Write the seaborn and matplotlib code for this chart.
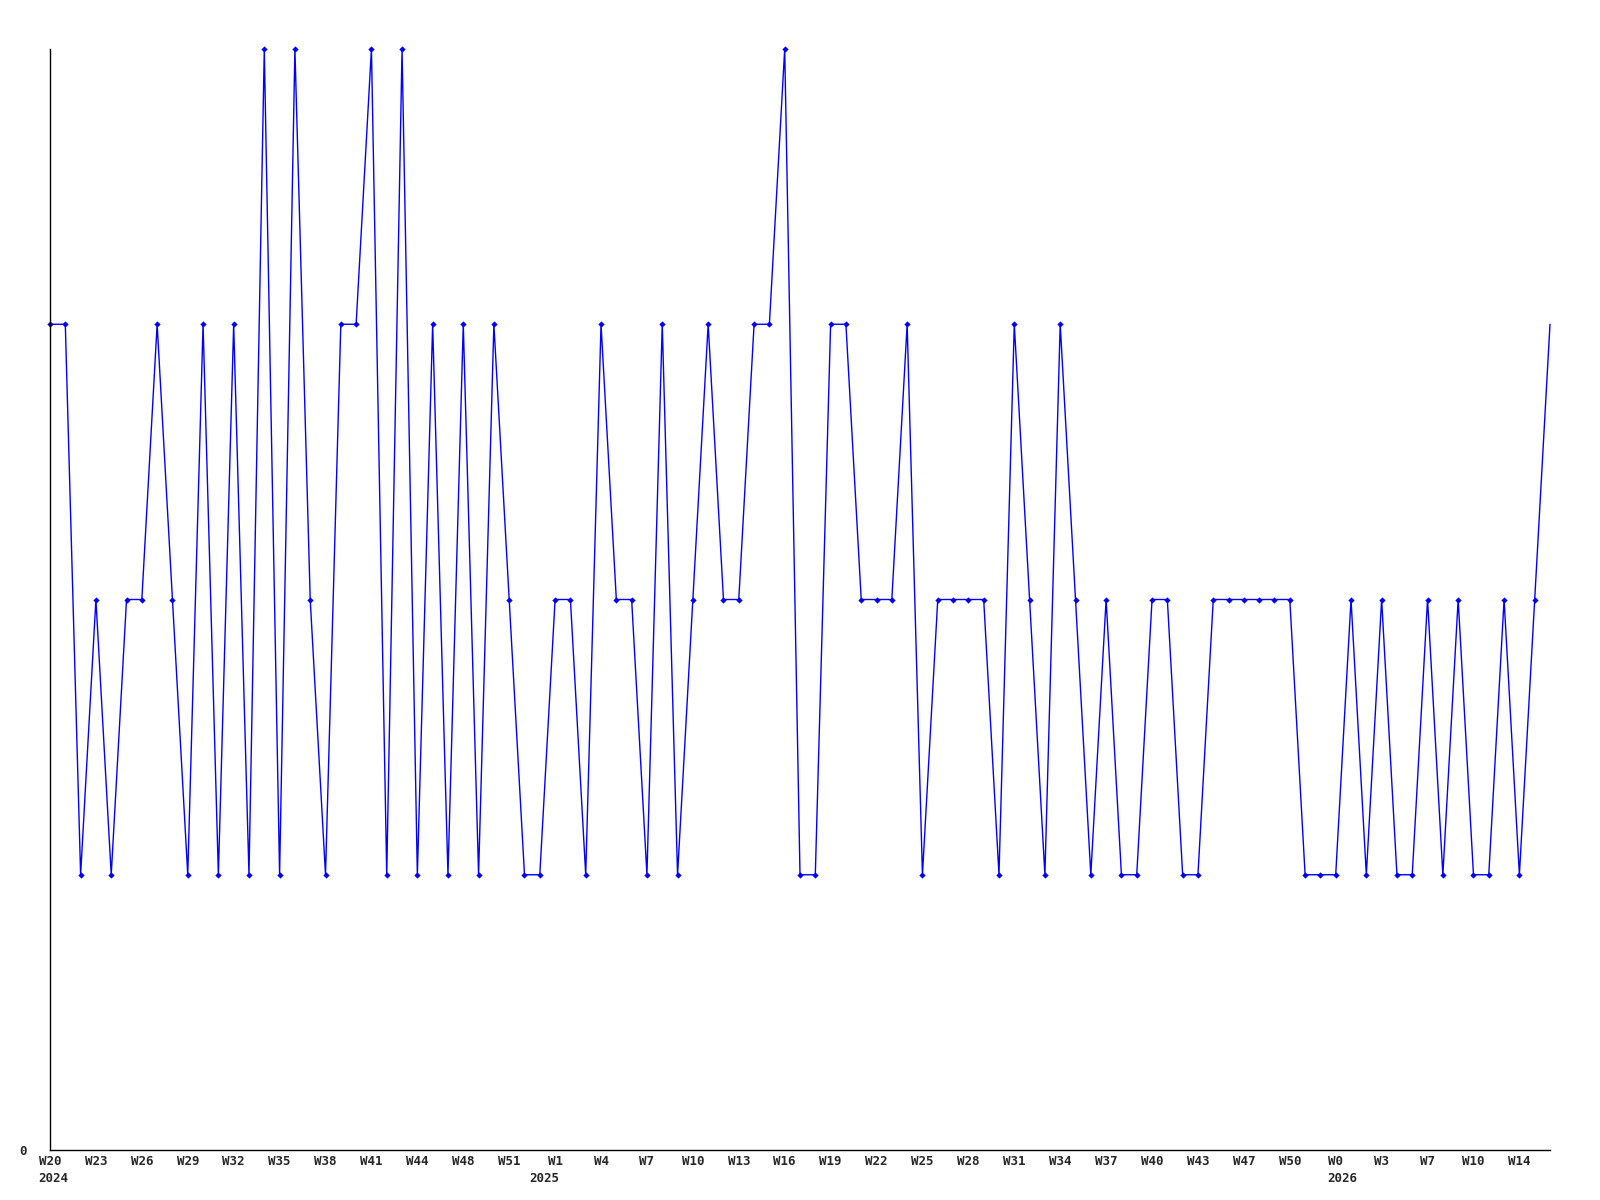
import matplotlib
matplotlib.use('Agg')
import matplotlib.pyplot as plt
import seaborn as sns
import pandas as pd

# weekly values
values = [3, 3, 1, 2, 1, 2, 2, 3, 2, 1,
          3, 1, 3, 1, 4, 1, 4, 2, 1, 3,
          3, 4, 1, 4, 1, 3, 1, 3, 1, 3,
          2, 1, 1, 2, 2, 1, 3, 2, 2, 1,
          3, 1, 2, 3, 2, 2, 3, 3, 4, 1,
          1, 3, 3, 2, 2, 2, 3, 1, 2, 2,
          2, 2, 1, 3, 2, 1, 3, 2, 1, 2,
          1, 1, 2, 2, 1, 1, 2, 2, 2, 2,
          2, 2, 1, 1, 1, 2, 1, 2, 1, 1,
          2, 1, 2, 1, 1, 2, 1, 2, 3]

week_labels = ["W20", "W23", "W26", "W29", "W32", "W35", "W38", "W41", "W44",
               "W48", "W51", "W1", "W4", "W7", "W10", "W13", "W16", "W19",
               "W22", "W25", "W28", "W31", "W34", "W37", "W40", "W43", "W47",
               "W50", "W0", "W3", "W7", "W10", "W14"]
label_every = 3

years = ["2024", "2025", "2026"]
year_pos = [0, 32.3, 84.4]  # where Jan 1 falls (index units)

df = pd.DataFrame({"week": range(len(values)), "count": values})

sns.set_style("white")
plt.rcParams['font.family'] = ['DejaVu Sans Mono', 'DejaVu Sans']

fig = plt.figure(figsize=(16, 12), dpi=100)
ax = fig.add_axes([50 / 1600, 50 / 1200, 1500 / 1600, 1101 / 1200])

# last point has no marker in the original (clipped at the edge)
sns.lineplot(data=df, x="week", y="count", ax=ax, color="#0000ff",
             linewidth=1, marker="D", markersize=3.2, markeredgewidth=0,
             markevery=list(range(len(values) - 1)), clip_on=False)

ax.set_xlim(0, len(values) - 1)
ax.set_ylim(0, 4)
ax.set_xlabel("")
ax.set_ylabel("")

ax.set_xticks(range(0, len(values), label_every)[:len(week_labels)])
ax.set_xticklabels(week_labels, fontsize=9, fontweight="bold")
ax.set_yticks([0])
ax.set_yticklabels(["0"], fontsize=9, fontweight="bold")
ax.tick_params(axis="x", length=0, pad=3.5)
ax.tick_params(axis="y", length=0, pad=17)

for yr, pos in zip(years, year_pos):
    if pos == 0:
        ax.annotate(yr, xy=(pos, 0), xycoords=("data", "axes fraction"),
                    xytext=(-8.3, -16), textcoords="offset points",
                    ha="left", va="top", fontsize=9, fontweight="bold")
    else:
        ax.annotate(yr, xy=(pos, 0), xycoords=("data", "axes fraction"),
                    xytext=(0, -16), textcoords="offset points",
                    ha="center", va="top", fontsize=9, fontweight="bold")

for side in ["top", "right"]:
    ax.spines[side].set_visible(False)
for side in ["left", "bottom"]:
    ax.spines[side].set_color("black")
    ax.spines[side].set_linewidth(1)
ax.grid(False)

fig.savefig("out.png", dpi=100)
